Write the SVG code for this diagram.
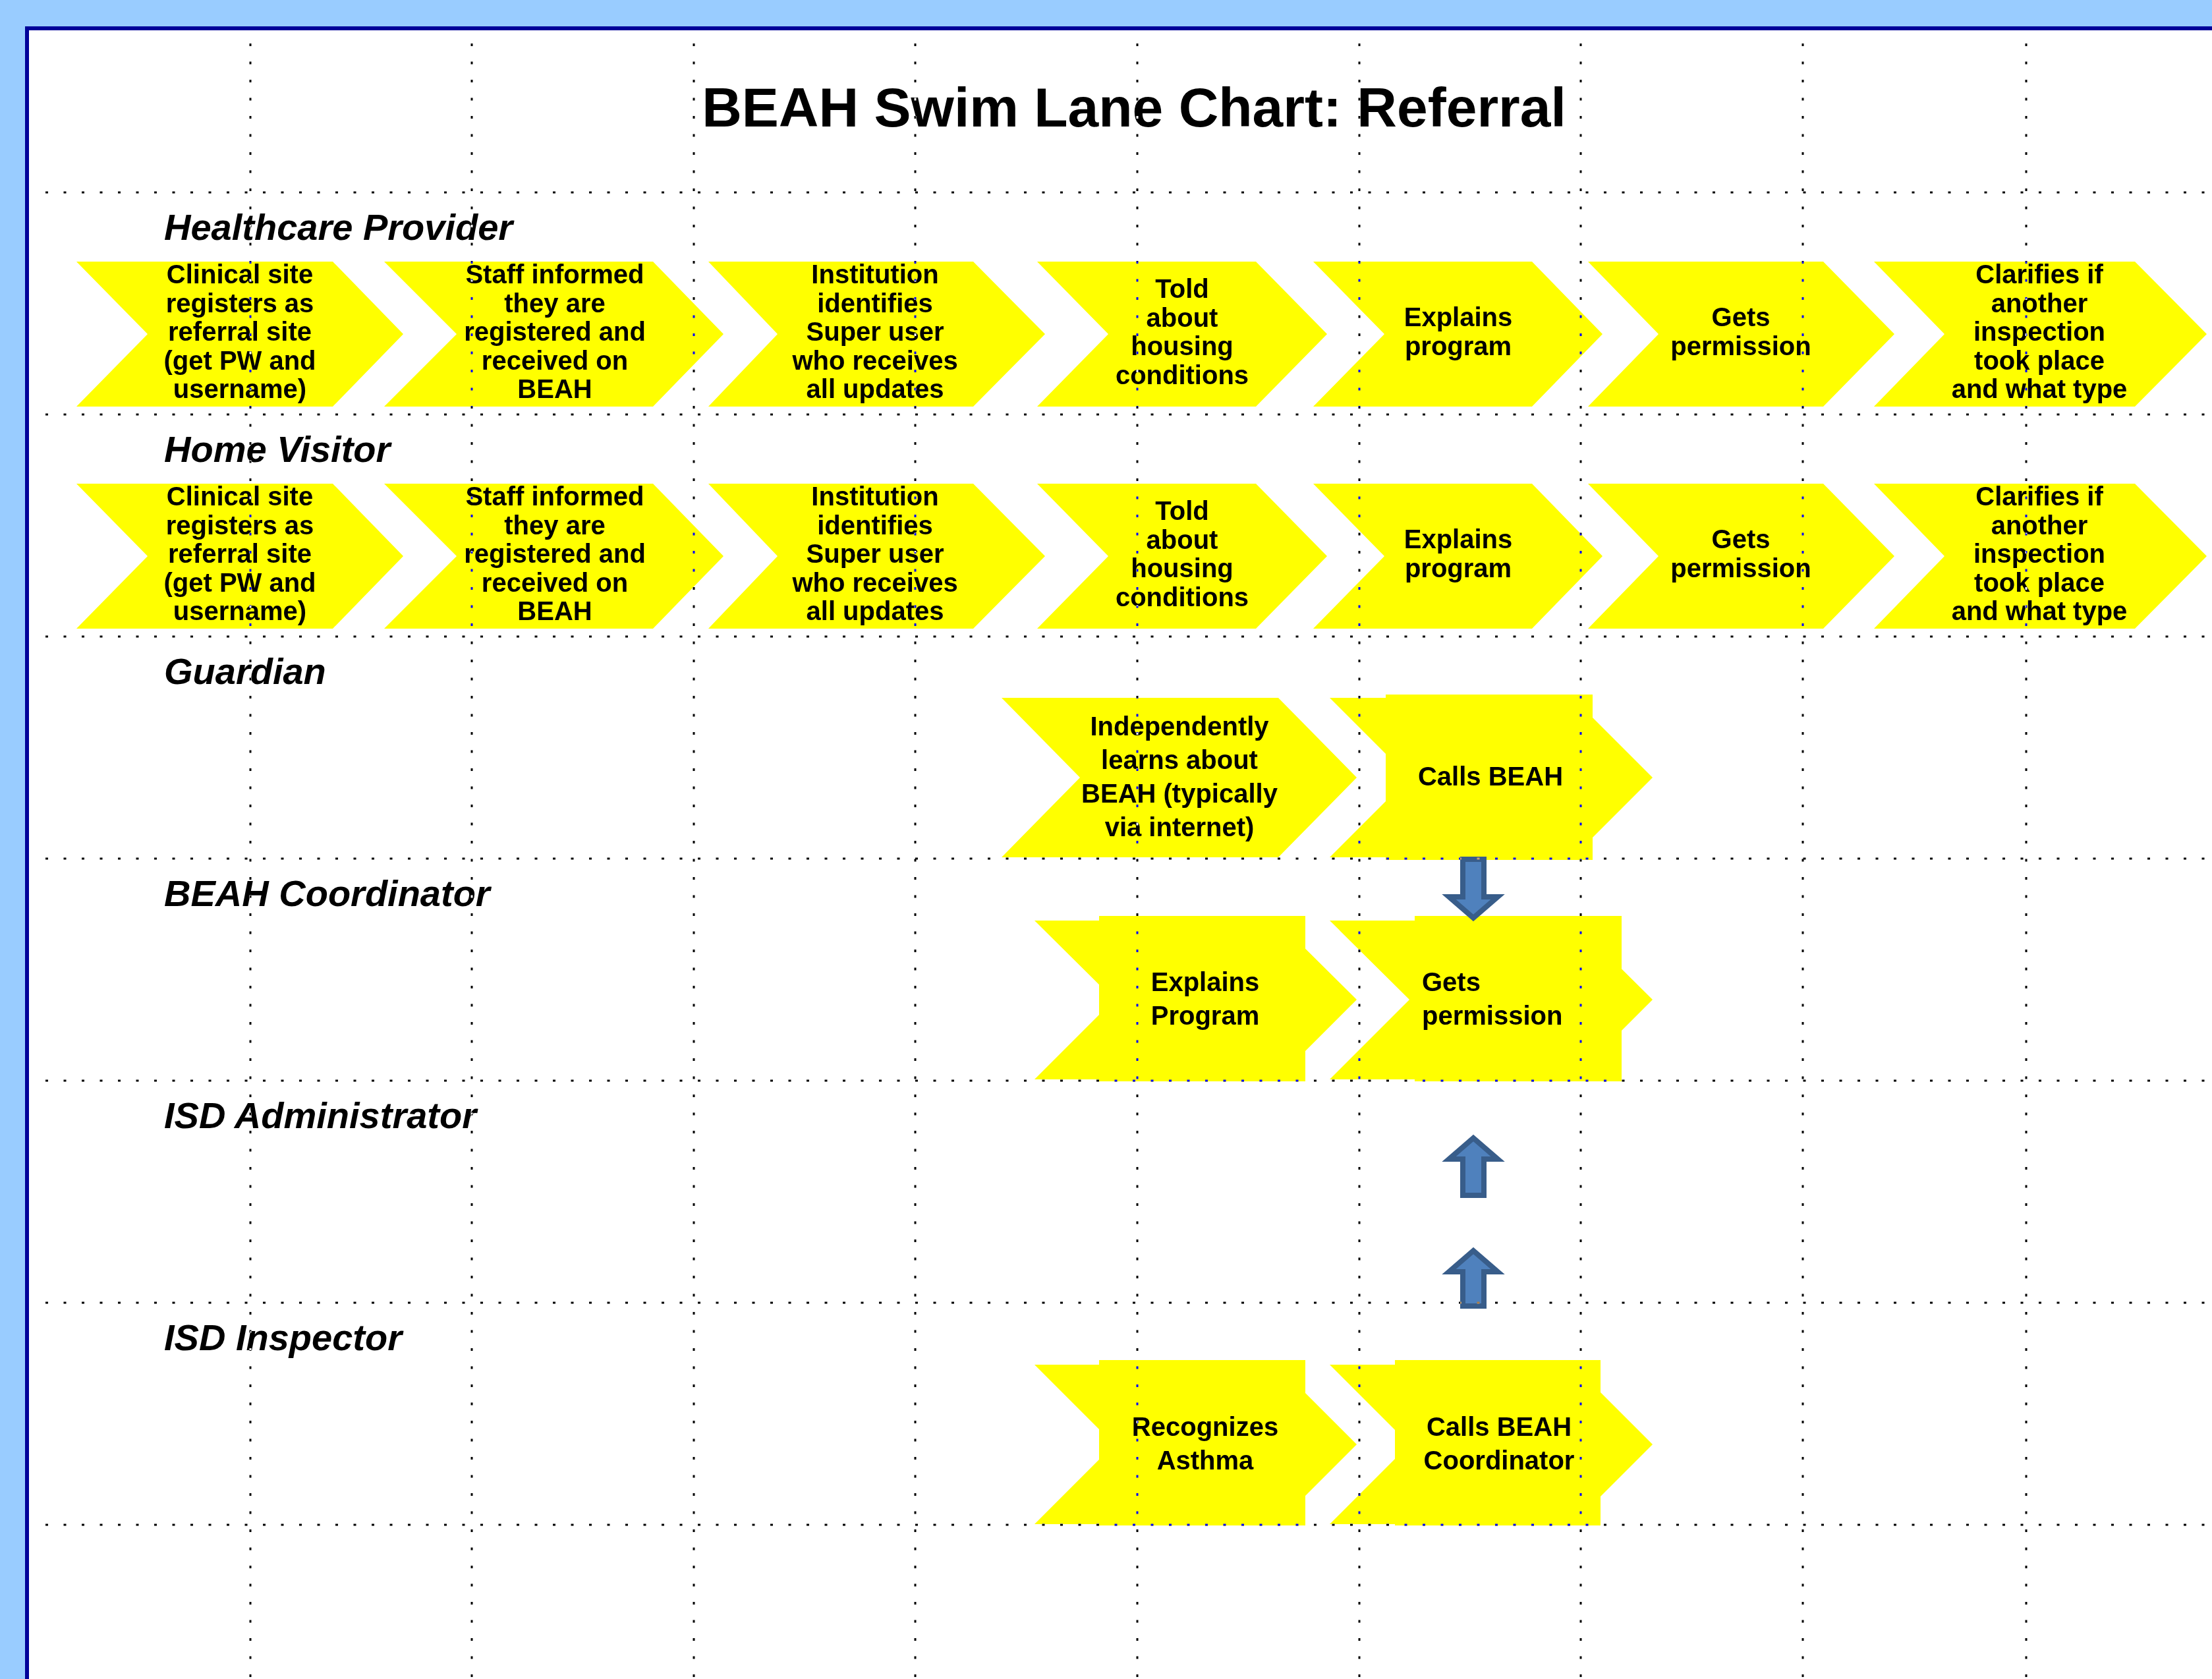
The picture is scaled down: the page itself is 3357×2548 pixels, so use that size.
<svg xmlns="http://www.w3.org/2000/svg" width="3357" height="2548" viewBox="0 0 3357 2548">
<style>
.y{fill:#FFFF00}
.t{font-family:"Liberation Sans",Arial,sans-serif;font-weight:bold;font-size:40px;fill:#000;text-anchor:middle}
.ts{text-anchor:start}
.lane{font-family:"Liberation Sans",Arial,sans-serif;font-weight:bold;font-style:italic;font-size:56px;fill:#000}
.title{font-family:"Liberation Sans",Arial,sans-serif;font-weight:bold;font-size:84px;fill:#000;text-anchor:middle}
.grid line{stroke:#fff;stroke-width:3;stroke-dasharray:4 23.5}
.arr{fill:#4F81BD;stroke:#385D8A;stroke-width:8;stroke-linejoin:miter}
</style>
<rect x="0" y="0" width="3357" height="2548" fill="#99CCFF"/>
<rect x="38" y="40" width="3330" height="2520" fill="#000099"/>
<rect x="44" y="46" width="3320" height="2510" fill="#FFFFFF"/>

<text class="title" x="1721" y="192">BEAH Swim Lane Chart: Referral</text>

<g id="lane-labels">
<text id="lane-healthcare" class="lane" x="249" y="364">Healthcare Provider</text>
<text id="lane-homevisitor" class="lane" x="249" y="701">Home Visitor</text>
<text id="lane-guardian" class="lane" x="249" y="1038">Guardian</text>
<text id="lane-coordinator" class="lane" x="249" y="1375">BEAH Coordinator</text>
<text id="lane-admin" class="lane" x="249" y="1712">ISD Administrator</text>
<text id="lane-inspector" class="lane" x="249" y="2049">ISD Inspector</text>
</g>

<!-- Healthcare Provider row -->
<g id="hp1"><polygon class="y" points="116,397 505,397 612,507 505,617 116,617 224,507"/>
<text class="t"><tspan x="364" y="430">Clinical site</tspan><tspan x="364" y="473.5">registers as</tspan><tspan x="364" y="517">referral site</tspan><tspan x="364" y="560.5">(get PW and</tspan><tspan x="364" y="604">username)</tspan></text></g>
<g id="hp2"><polygon class="y" points="583,397 991,397 1098,507 991,617 583,617 693,507"/>
<text class="t"><tspan x="842" y="430">Staff informed</tspan><tspan x="842" y="473.5">they are</tspan><tspan x="842" y="517">registered and</tspan><tspan x="842" y="560.5">received on</tspan><tspan x="842" y="604">BEAH</tspan></text></g>
<g id="hp3"><polygon class="y" points="1075,397 1477,397 1586,507 1477,617 1075,617 1180,507"/>
<text class="t"><tspan x="1328" y="430">Institution</tspan><tspan x="1328" y="473.5">identifies</tspan><tspan x="1328" y="517">Super user</tspan><tspan x="1328" y="560.5">who receives</tspan><tspan x="1328" y="604">all updates</tspan></text></g>
<g id="hp4"><polygon class="y" points="1574,397 1906,397 2014,507 1906,617 1574,617 1682,507"/>
<text class="t"><tspan x="1794" y="452">Told</tspan><tspan x="1794" y="495.5">about</tspan><tspan x="1794" y="539">housing</tspan><tspan x="1794" y="582.5">conditions</tspan></text></g>
<g id="hp5"><polygon class="y" points="1993,397 2325,397 2432,507 2325,617 1993,617 2101,507"/>
<text class="t"><tspan x="2213" y="495">Explains</tspan><tspan x="2213" y="538.5">program</tspan></text></g>
<g id="hp6"><polygon class="y" points="2410,397 2767,397 2875,507 2767,617 2410,617 2517,507"/>
<text class="t"><tspan x="2642" y="495">Gets</tspan><tspan x="2642" y="538.5">permission</tspan></text></g>
<g id="hp7"><polygon class="y" points="2844,397 3240,397 3349,507 3240,617 2844,617 2951,507"/>
<text class="t"><tspan x="3095" y="430">Clarifies if</tspan><tspan x="3095" y="473.5">another</tspan><tspan x="3095" y="517">inspection</tspan><tspan x="3095" y="560.5">took place</tspan><tspan x="3095" y="604">and what type</tspan></text></g>

<!-- Home Visitor row -->
<g id="hv1"><polygon class="y" points="116,734 505,734 612,844 505,954 116,954 224,844"/>
<text class="t"><tspan x="364" y="767">Clinical site</tspan><tspan x="364" y="810.5">registers as</tspan><tspan x="364" y="854">referral site</tspan><tspan x="364" y="897.5">(get PW and</tspan><tspan x="364" y="941">username)</tspan></text></g>
<g id="hv2"><polygon class="y" points="583,734 991,734 1098,844 991,954 583,954 693,844"/>
<text class="t"><tspan x="842" y="767">Staff informed</tspan><tspan x="842" y="810.5">they are</tspan><tspan x="842" y="854">registered and</tspan><tspan x="842" y="897.5">received on</tspan><tspan x="842" y="941">BEAH</tspan></text></g>
<g id="hv3"><polygon class="y" points="1075,734 1477,734 1586,844 1477,954 1075,954 1180,844"/>
<text class="t"><tspan x="1328" y="767">Institution</tspan><tspan x="1328" y="810.5">identifies</tspan><tspan x="1328" y="854">Super user</tspan><tspan x="1328" y="897.5">who receives</tspan><tspan x="1328" y="941">all updates</tspan></text></g>
<g id="hv4"><polygon class="y" points="1574,734 1906,734 2014,844 1906,954 1574,954 1682,844"/>
<text class="t"><tspan x="1794" y="789">Told</tspan><tspan x="1794" y="832.5">about</tspan><tspan x="1794" y="876">housing</tspan><tspan x="1794" y="919.5">conditions</tspan></text></g>
<g id="hv5"><polygon class="y" points="1993,734 2325,734 2432,844 2325,954 1993,954 2101,844"/>
<text class="t"><tspan x="2213" y="832">Explains</tspan><tspan x="2213" y="875.5">program</tspan></text></g>
<g id="hv6"><polygon class="y" points="2410,734 2767,734 2875,844 2767,954 2410,954 2517,844"/>
<text class="t"><tspan x="2642" y="832">Gets</tspan><tspan x="2642" y="875.5">permission</tspan></text></g>
<g id="hv7"><polygon class="y" points="2844,734 3240,734 3349,844 3240,954 2844,954 2951,844"/>
<text class="t"><tspan x="3095" y="767">Clarifies if</tspan><tspan x="3095" y="810.5">another</tspan><tspan x="3095" y="854">inspection</tspan><tspan x="3095" y="897.5">took place</tspan><tspan x="3095" y="941">and what type</tspan></text></g>

<!-- Guardian row -->
<g id="g1"><polygon class="y" points="1520,1059 1940,1059 2059,1180 1940,1301 1520,1301 1639,1180"/>
<text class="t"><tspan x="1790" y="1116">Independently</tspan><tspan x="1790" y="1167">learns about</tspan><tspan x="1790" y="1218">BEAH (typically</tspan><tspan x="1790" y="1269">via internet)</tspan></text></g>
<g id="g2"><polygon class="y" points="2018,1059 2387,1059 2508,1180 2387,1301 2018,1301 2139,1180"/>
<rect class="y" x="2103" y="1054" width="314" height="251"/>
<text class="t" x="2262" y="1192">Calls BEAH</text></g>

<!-- BEAH Coordinator row -->
<g id="c1"><polygon class="y" points="1570,1397 1938,1397 2059,1517 1938,1638 1570,1638 1691,1517"/>
<rect class="y" x="1668" y="1390" width="313" height="251"/>
<text class="t"><tspan x="1829" y="1504">Explains</tspan><tspan x="1829" y="1555">Program</tspan></text></g>
<g id="c2"><polygon class="y" points="2018,1397 2387,1397 2508,1517 2387,1638 2018,1638 2139,1517"/>
<rect class="y" x="2147" y="1390" width="314" height="251"/>
<text class="t ts"><tspan x="2158" y="1504">Gets</tspan><tspan x="2158" y="1555">permission</tspan></text></g>

<!-- ISD Inspector row -->
<g id="i1"><polygon class="y" points="1570,2071 1938,2071 2059,2192 1938,2313 1570,2313 1691,2192"/>
<rect class="y" x="1668" y="2064" width="313" height="251"/>
<text class="t"><tspan x="1829" y="2179">Recognizes</tspan><tspan x="1829" y="2230">Asthma</tspan></text></g>
<g id="i2"><polygon class="y" points="2018,2071 2387,2071 2508,2192 2387,2313 2018,2313 2139,2192"/>
<rect class="y" x="2117" y="2064" width="312" height="251"/>
<text class="t"><tspan x="2275" y="2179">Calls BEAH</tspan><tspan x="2275" y="2230">Coordinator</tspan></text></g>

<g id="connectors">
<polygon class="arr" points="2220,1304 2252,1304 2252,1361 2273,1361 2236,1393 2199,1361 2220,1361"/>
<polygon class="arr" points="2236,1727 2273,1759 2252,1759 2252,1814 2220,1814 2220,1759 2199,1759"/>
<polygon class="arr" points="2236,1898 2273,1930 2252,1930 2252,1982 2220,1982 2220,1930 2199,1930"/>
</g>

<g class="grid" style="mix-blend-mode:difference">
<line x1="69" y1="292" x2="3357" y2="292"/>
<line x1="69" y1="629" x2="3357" y2="629"/>
<line x1="69" y1="966" x2="3357" y2="966"/>
<line x1="69" y1="1303" x2="3357" y2="1303"/>
<line x1="69" y1="1640" x2="3357" y2="1640"/>
<line x1="69" y1="1977" x2="3357" y2="1977"/>
<line x1="69" y1="2314" x2="3357" y2="2314"/>
<line x1="380" y1="66" x2="380" y2="2548"/>
<line x1="716" y1="66" x2="716" y2="2548"/>
<line x1="1053" y1="66" x2="1053" y2="2548"/>
<line x1="1389" y1="66" x2="1389" y2="2548"/>
<line x1="1726" y1="66" x2="1726" y2="2548"/>
<line x1="2063" y1="66" x2="2063" y2="2548"/>
<line x1="2399" y1="66" x2="2399" y2="2548"/>
<line x1="2736" y1="66" x2="2736" y2="2548"/>
<line x1="3075" y1="66" x2="3075" y2="2548"/>
</g>
</svg>
